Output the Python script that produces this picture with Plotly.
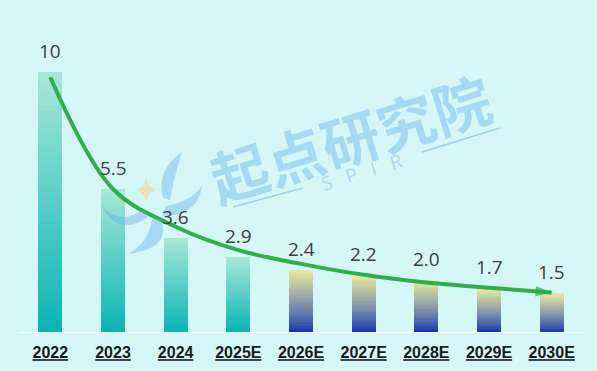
import plotly.graph_objects as go

categories = ["2022", "2023", "2024", "2025E", "2026E", "2027E", "2028E", "2029E", "2030E"]
values = [10, 5.5, 3.6, 2.9, 2.4, 2.2, 2.0, 1.7, 1.5]
value_labels = ["10", "5.5", "3.6", "2.9", "2.4", "2.2", "2.0", "1.7", "1.5"]
trend = [9.8, 5.5, 4.05, 3.15, 2.62, 2.2, 1.9, 1.7, 1.52]
tick_labels = ["<b><u>%s</u></b>" % c for c in categories]

W, H = 597, 371
ML, MR, MT, MB = 19, 14, 20, 39
BG = "#d6f7f8"

def lerp(c1, c2, t):
    return "rgb(%d,%d,%d)" % tuple(round(a + (b - a) * t) for a, b in zip(c1, c2))

teal_top, teal_bot = (164, 232, 214), (12, 180, 182)
yel_top, blue_bot = (230, 234, 160), (16, 50, 178)

N = 40
fig = go.Figure()
for i in range(N):
    t = i / (N - 1)  # 0 bottom -> 1 top
    cols = []
    for c in categories:
        if c in ("2022", "2023", "2024", "2025E"):
            cols.append(lerp(teal_bot, teal_top, t))
        else:
            tt = t ** 0.8
            cols.append(lerp(blue_bot, yel_top, tt))
    fig.add_trace(go.Bar(
        x=categories, y=[v / N for v in values],
        marker=dict(color=cols, line=dict(width=0)),
        hoverinfo="skip", showlegend=False,
    ))

fig.add_trace(go.Scatter(
    x=categories, y=trend, mode="lines+markers",
    line=dict(color="#2eaf4b", width=4, shape="spline", smoothing=1.0),
    marker=dict(symbol="arrow", angleref="previous",
                size=[0] * (len(trend) - 1) + [17], color="#2eaf4b",
                line=dict(width=0)),
    showlegend=False, hoverinfo="skip",
))

def px2p(x, y):
    return (x - ML) / (W - ML - MR), (H - MB - y) / (H - MT - MB)

def path(pts):
    s = ""
    for cmd, coords in pts:
        s += cmd
        s += " ".join("%.4f,%.4f" % px2p(coords[k], coords[k + 1]) for k in range(0, len(coords), 2))
        s += " "
    return s + "Z"

wm = "rgba(100,172,232,0.40)"
shapes = []
petals = [
    [("M", (163, 198)), ("Q", (156, 170, 182, 152)), ("Q", (174, 178, 170, 200))],
    [("M", (166, 206)), ("Q", (190, 202, 202, 186)), ("Q", (198, 216, 162, 216))],
    [("M", (142, 210)), ("Q", (120, 226, 102, 206)), ("Q", (118, 238, 148, 217))],
    [("M", (152, 218)), ("Q", (150, 242, 128, 254)), ("Q", (172, 248, 161, 220))],
]
for p in petals:
    shapes.append(dict(type="path", xref="paper", yref="paper", path=path(p),
                       fillcolor=wm, line=dict(width=0), layer="above"))
shapes.append(dict(type="path", xref="paper", yref="paper",
                   path=path([("M", (146, 178)), ("Q", (148, 188, 156, 190)),
                              ("Q", (148, 192, 146, 202)), ("Q", (144, 192, 136, 190)),
                              ("Q", (144, 188, 146, 178))]),
                   fillcolor="rgba(240,215,150,0.6)", line=dict(width=0), layer="above"))
for (x0, y0, x1, y1) in [(233, 207, 303, 188), (422, 152, 500, 128)]:
    a = px2p(x0, y0); b = px2p(x1, y1)
    shapes.append(dict(type="line", xref="paper", yref="paper", x0=a[0], y0=a[1], x1=b[0], y1=b[1],
                       line=dict(color="rgba(100,172,232,0.5)", width=1.5), layer="above"))

annotations = []
for idx, (v, lab) in enumerate(zip(values, value_labels)):
    annotations.append(dict(x=idx, y=v, xref="x", yref="y", text=lab, showarrow=False,
                            yanchor="bottom", yshift=6,
                            font=dict(family="Open Sans, Noto Sans, sans-serif", size=19, color="#3d3d3d")))
cx, cy = px2p(350, 137)
annotations.append(dict(xref="paper", yref="paper", x=cx, y=cy, text="<b>起点研究院</b>", showarrow=False,
                        textangle=-17, font=dict(family="Noto Sans CJK SC", size=58, color=wm)))
sx, sy = px2p(362, 172)
annotations.append(dict(xref="paper", yref="paper", x=sx, y=sy, text="S   P   I   R", showarrow=False,
                        textangle=-17, font=dict(family="Open Sans, sans-serif", size=19, color=wm)))

fig.update_layout(
    width=W, height=H, margin=dict(l=ML, r=MR, t=MT, b=MB, autoexpand=False),
    paper_bgcolor=BG, plot_bgcolor=BG,
    barmode="stack", bargap=0.62, showlegend=False,
    shapes=shapes, annotations=annotations,
    xaxis=dict(type="category", categoryorder="array", categoryarray=categories,
               range=[-0.5, len(categories) - 0.5], automargin=False,
               tickmode="array", tickvals=categories, ticktext=tick_labels,
               showgrid=False, zeroline=False, showline=True,
               linecolor="rgba(255,255,255,0.9)", linewidth=1,
               ticks="outside", ticklen=6, tickcolor="rgba(0,0,0,0)",
               tickfont=dict(family="Arial, Liberation Sans, sans-serif", size=16, color="#1a1a1a")),
    yaxis=dict(range=[0, 12], visible=False, showgrid=False, zeroline=False, automargin=False),
)

fig.write_html("out.html", config={"displayModeBar": False},
               post_script="document.body.style.margin='0';document.body.style.background='%s';" % BG)
